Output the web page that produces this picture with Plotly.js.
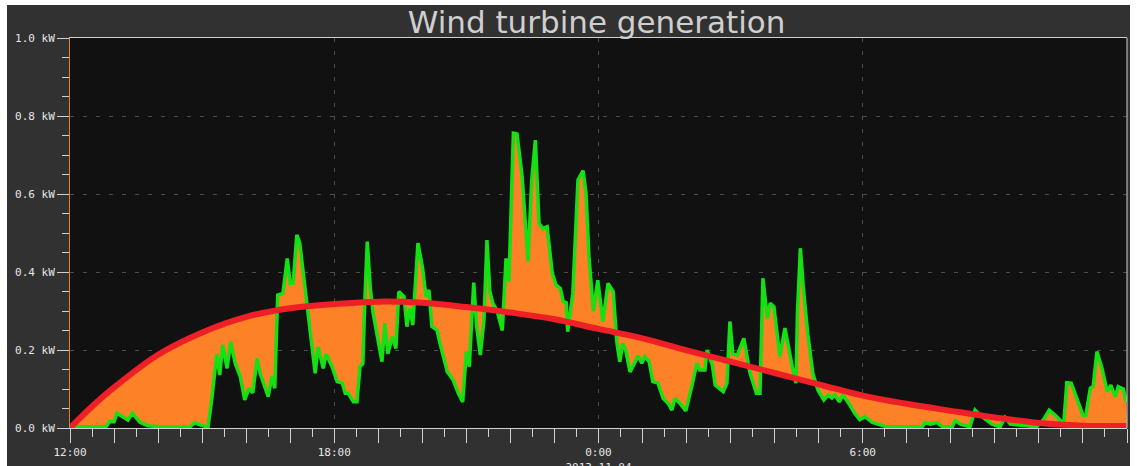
<!DOCTYPE html>
<html>
<head>
<meta charset="utf-8">
<script src="https://cdn.plot.ly/plotly-3.0.1.min.js"></script>
<style>
  html, body { margin: 0; padding: 0; background: #ffffff; width: 1137px; height: 466px; overflow: hidden; }
  #chart { position: absolute; left: 7px; top: 5px; width: 1123px; height: 461px; }
</style>
</head>
<body>
<div id="chart"></div>
<script>
// ---- data (minutes after 2013-11-03 12:00) ----
const startTime = Date.UTC(2013, 10, 3, 12, 0);

const greenMinutes = [0, 49, 54, 60, 64, 70, 72, 79, 85, 95, 106, 123, 163, 170, 177, 188,
  193, 200, 204, 208, 214, 219, 225, 232, 238, 244, 249, 255, 259, 270, 275, 279,
  283, 290, 296, 300, 304, 309, 313, 322, 327, 334, 338, 345, 349, 357, 364, 371,
  375, 379, 386, 391, 395, 399, 402, 405, 409, 413, 425, 429, 433, 439, 444, 448,
  455, 459, 463, 467, 474, 480, 485, 489, 493, 500, 504, 514, 522, 529, 535, 540,
  544, 548, 550, 554, 559, 564, 568, 572, 576, 582, 589, 594, 598, 604, 609, 616,
  620, 624, 629, 634, 639, 644, 650, 657, 662, 668, 672, 676, 678, 685, 692, 699,
  703, 707, 713, 719, 726, 733, 740, 745, 749, 753, 757, 763, 774, 779, 783, 789,
  794, 801, 808, 815, 820, 824, 831, 839, 847, 854, 858, 865, 868, 875, 879, 890,
  895, 899, 903, 909, 918, 926, 935, 940, 944, 950, 954, 959, 967, 974, 984, 989,
  991, 995, 999, 1005, 1012, 1019, 1027, 1033, 1038, 1042, 1048, 1053, 1061, 1069, 1076, 1083,
  1093, 1104, 1113, 1161, 1165, 1172, 1181, 1189, 1202, 1206, 1213, 1226, 1233, 1240, 1256, 1267,
  1274, 1281, 1317, 1326, 1334, 1342, 1351, 1354, 1358, 1364, 1372, 1380, 1384, 1390, 1394, 1399,
  1406, 1413, 1418, 1424, 1428, 1435, 1439];

const greenKW = [0.003, 0.003, 0.016, 0.016, 0.038, 0.030, 0.029, 0.020, 0.038, 0.015, 0.006, 0.003, 0.002, 0.014, 0.008, 0.002,
  0.072, 0.190, 0.136, 0.213, 0.153, 0.221, 0.166, 0.132, 0.072, 0.102, 0.090, 0.179, 0.140, 0.080, 0.132, 0.102,
  0.341, 0.345, 0.435, 0.371, 0.371, 0.495, 0.474, 0.328, 0.260, 0.140, 0.208, 0.153, 0.190, 0.157, 0.119, 0.115,
  0.089, 0.089, 0.067, 0.067, 0.157, 0.165, 0.345, 0.478, 0.362, 0.294, 0.170, 0.268, 0.190, 0.234, 0.204, 0.350,
  0.337, 0.260, 0.307, 0.264, 0.474, 0.414, 0.337, 0.354, 0.260, 0.251, 0.217, 0.144, 0.123, 0.089, 0.067, 0.196,
  0.157, 0.294, 0.373, 0.260, 0.187, 0.277, 0.482, 0.350, 0.320, 0.300, 0.250, 0.435, 0.375, 0.756, 0.754, 0.644,
  0.533, 0.427, 0.636, 0.738, 0.525, 0.512, 0.516, 0.397, 0.367, 0.358, 0.324, 0.321, 0.247, 0.345, 0.636, 0.660,
  0.602, 0.440, 0.300, 0.379, 0.273, 0.371, 0.350, 0.220, 0.170, 0.217, 0.200, 0.144, 0.185, 0.166, 0.183, 0.170,
  0.119, 0.115, 0.076, 0.063, 0.046, 0.076, 0.063, 0.044, 0.106, 0.166, 0.149, 0.149, 0.200, 0.162, 0.110, 0.093,
  0.115, 0.273, 0.190, 0.187, 0.230, 0.144, 0.089, 0.089, 0.384, 0.281, 0.320, 0.311, 0.183, 0.256, 0.157, 0.115,
  0.294, 0.461, 0.362, 0.243, 0.140, 0.097, 0.072, 0.085, 0.077, 0.085, 0.067, 0.085, 0.063, 0.038, 0.021, 0.029,
  0.014, 0.008, 0.003, 0.003, 0.014, 0.010, 0.014, 0.003, 0.003, 0.019, 0.010, 0.003, 0.046, 0.033, 0.010, 0.003,
  0.027, 0.010, 0.003, 0.021, 0.046, 0.033, 0.016, 0.016, 0.116, 0.115, 0.072, 0.033, 0.033, 0.102, 0.107, 0.196,
  0.153, 0.093, 0.110, 0.080, 0.106, 0.100, 0.067];

const trendMinutes = [0, 30, 60, 120, 180, 240, 300, 360, 420, 480, 540, 600, 660, 720,
  780, 840, 900, 960, 1020, 1080, 1140, 1200, 1260, 1320, 1380, 1440];
const trendKW = [0.000, 0.055, 0.104, 0.188, 0.245, 0.285, 0.307, 0.318, 0.324, 0.321, 0.310, 0.296, 0.279, 0.254,
  0.230, 0.199, 0.170, 0.141, 0.112, 0.083, 0.062, 0.044, 0.027, 0.013, 0.006, 0.005];

const yTickValues = [0, 0.2, 0.4, 0.6, 0.8, 1.0];
const yTickLabels = ['0.0 kW', '0.2 kW', '0.4 kW', '0.6 kW', '0.8 kW', '1.0 kW'];
const xLabelHours = [0, 6, 12, 18, 24];
const xLabelTexts = ['12:00', '18:00', '0:00<br>2013-11-04', '6:00', '12:00'];

// ---- helpers ----
function toDate(m) {
  return new Date(startTime + m * 60000).toISOString().slice(0, 19).replace('T', ' ');
}
const gx = greenMinutes.map(toDate);
const tx = trendMinutes.map(toDate);
const xStart = toDate(0), xEnd = toDate(1440);
const labelVals = xLabelHours.map(h => toDate(h * 60));

const traces = [
  { x: tx, y: trendKW, type: 'scatter', mode: 'lines', line: { width: 0, shape: 'spline', smoothing: 1, color: '#ee1f26' },
    hoverinfo: 'skip', showlegend: false },
  { x: gx, y: greenKW, type: 'scatter', mode: 'lines', fill: 'tonexty', fillcolor: '#fd8126',
    line: { color: '#14e014', width: 3.5 }, showlegend: false },
  { x: tx, y: trendKW, type: 'scatter', mode: 'lines', line: { width: 6, shape: 'spline', smoothing: 1, color: '#ee1f26' },
    showlegend: false },
  { x: [xStart, xEnd], y: [null, null], xaxis: 'x2', type: 'scatter', mode: 'lines', showlegend: false, hoverinfo: 'skip' }
];

const tickFont = { family: 'DejaVu Sans Mono, monospace', size: 11, color: '#e6e6e6' };

const layout = {
  width: 1123, height: 461,
  margin: { l: 63, r: 3, t: 33, b: 38 },
  paper_bgcolor: '#313131',
  plot_bgcolor: '#111111',
  showlegend: false,
  title: { text: 'Wind turbine generation', x: 0.525, xanchor: 'center', yref: 'container', y: 0.962, yanchor: 'middle',
    font: { family: 'DejaVu Sans, sans-serif', size: 31, color: '#cfcfcf' } },
  xaxis: {
    type: 'date', range: [xStart, xEnd],
    tickmode: 'array', tickvals: labelVals, ticktext: xLabelTexts,
    ticks: 'outside', ticklen: 14, tickwidth: 1, tickcolor: '#d0d0d0',
    tickfont: tickFont,
    showgrid: true, gridcolor: '#4d4d4d', griddash: '4px,9px', gridwidth: 1,
    showline: true, linecolor: '#d0d0d0', linewidth: 1, mirror: true,
    zeroline: false,
    minor: { dtick: 1800000, tick0: xStart, ticks: 'outside', ticklen: 8, tickcolor: '#d0d0d0', showgrid: false }
  },
  xaxis2: {
    type: 'date', overlaying: 'x', matches: 'x', side: 'bottom', anchor: 'y',
    dtick: 3600000, tick0: xStart, ticks: 'outside', ticklen: 14, tickcolor: '#d0d0d0',
    showticklabels: false, showgrid: false, showline: false, zeroline: false
  },
  yaxis: {
    range: [0, 1.0], tickmode: 'array', tickvals: yTickValues, ticktext: yTickLabels,
    ticks: 'outside', ticklen: 12, tickcolor: '#d0d0d0', tickfont: tickFont,
    showgrid: true, gridcolor: '#4d4d4d', griddash: '4px,9px', gridwidth: 1,
    showline: true, linecolor: '#d8862a', linewidth: 1,
    zeroline: false,
    minor: { dtick: 0.05, ticks: 'outside', ticklen: 7, tickcolor: '#d0d0d0', showgrid: false }
  },
  shapes: [
    { type: 'line', xref: 'paper', yref: 'paper', x0: 1, x1: 1, y0: 0, y1: 1, line: { color: '#d0d0d0', width: 1 } }
  ]
};

Plotly.newPlot('chart', traces, layout, { displayModeBar: false, staticPlot: true });
</script>
</body>
</html>
